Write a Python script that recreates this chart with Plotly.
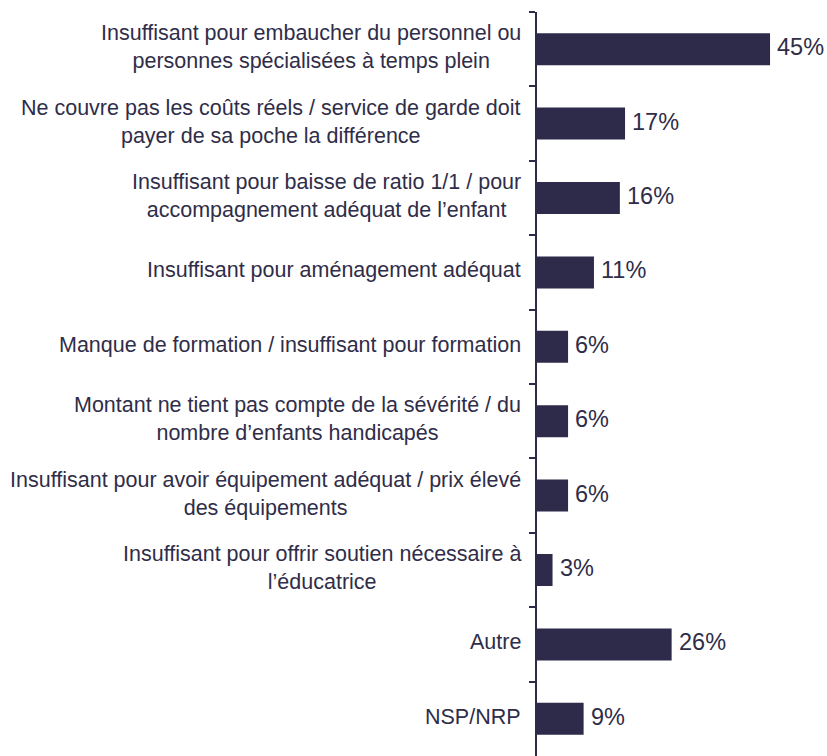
import plotly.graph_objects as go

# Response categories (top to bottom) and share of respondents (%)
categories = [
    "Insuffisant pour embaucher du personnel ou<br>personnes spécialisées à temps plein",
    "Ne couvre pas les coûts réels / service de garde doit<br>payer de sa poche la différence",
    "Insuffisant pour baisse de ratio 1/1 / pour<br>accompagnement adéquat de l’enfant",
    "Insuffisant pour aménagement adéquat",
    "Manque de formation / insuffisant pour formation",
    "Montant ne tient pas compte de la sévérité / du<br>nombre d’enfants handicapés",
    "Insuffisant pour avoir équipement adéquat / prix élevé<br>des équipements",
    "Insuffisant pour offrir soutien nécessaire à<br>l’éducatrice",
    "Autre",
    "NSP/NRP",
]
values = [45, 17, 16, 11, 6, 6, 6, 3, 26, 9]
value_labels = [f"{v}%" for v in values]

BAR = "#2d2a4a"
TEXT = "#2f2d48"
FONT = "Liberation Sans, Arial, sans-serif"

fig = go.Figure(
    go.Bar(
        x=values,
        y=categories,
        orientation="h",
        marker=dict(color=BAR, line=dict(width=0)),
        hoverinfo="skip",
    )
)

annotations = []
# Category labels: right-aligned block, centred lines
for cat in categories:
    annotations.append(
        dict(
            x=0, y=cat, xref="x", yref="y",
            text=cat, showarrow=False,
            xanchor="right", yanchor="middle", align="center",
            xshift=-14, yshift=2,
            font=dict(family=FONT, size=21.5, color=TEXT),
        )
    )
# Value labels just past the end of each bar
for cat, v, lab in zip(categories, values, value_labels):
    annotations.append(
        dict(
            x=v, y=cat, xref="x", yref="y",
            text=lab, showarrow=False,
            xanchor="left", yanchor="middle",
            xshift=5, yshift=2,
            font=dict(family=FONT, size=23.5, color=TEXT),
        )
    )

fig.update_layout(
    width=827,
    height=756,
    margin=dict(l=537, r=0, t=12, b=0),
    paper_bgcolor="white",
    plot_bgcolor="white",
    showlegend=False,
    bargap=0.57,
    annotations=annotations,
    xaxis=dict(
        range=[0, 56],
        visible=False,
        fixedrange=True,
    ),
    yaxis=dict(
        autorange="reversed",
        showticklabels=False,
        showgrid=False,
        zeroline=False,
        showline=True,
        linecolor=BAR,
        linewidth=1.5,
        ticks="outside",
        ticklen=6,
        tickwidth=1.5,
        tickcolor=BAR,
        tickson="boundaries",
        fixedrange=True,
    ),
)

fig.write_html("out.html")
